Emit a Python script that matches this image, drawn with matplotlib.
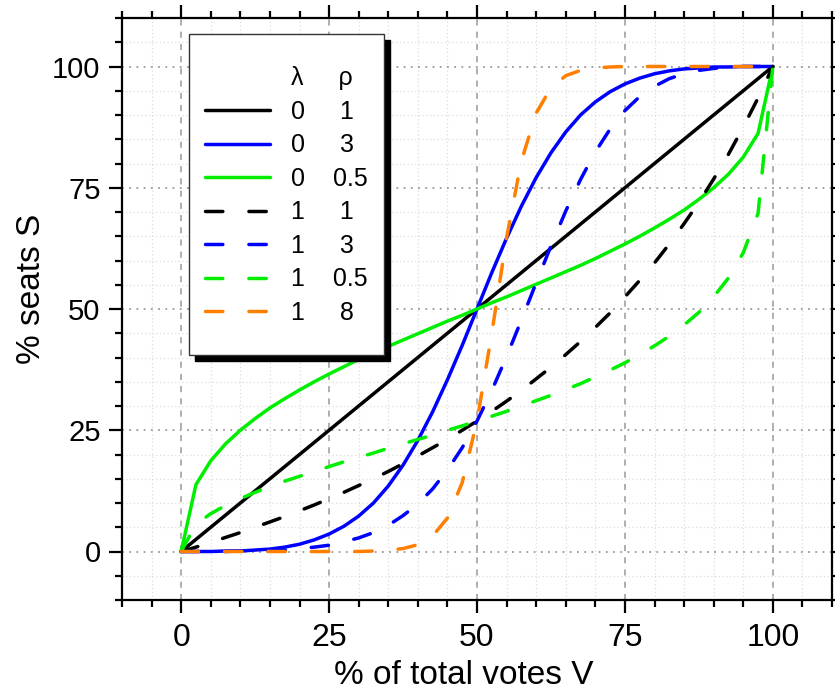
import numpy as np
import matplotlib
matplotlib.use('Agg')
import matplotlib.pyplot as plt
from matplotlib.lines import Line2D
from matplotlib.patches import Rectangle
from matplotlib.ticker import MultipleLocator

plt.rcParams['font.family'] = ['Liberation Sans', 'DejaVu Sans']

# % of total votes (x) and % seats (y)
votes = [0, 2.5, 5, 7.5, 10, 12.5, 15, 17.5, 20, 22.5,
         25, 27.5, 30, 32.5, 35, 37.5, 40, 42.5, 45, 47.5,
         50, 52.5, 55, 57.5, 60, 62.5, 65, 67.5, 70, 72.5,
         75, 77.5, 80, 82.5, 85, 87.5, 90, 92.5, 95, 97.5, 100]

seats_l0_r1 = list(votes)
seats_l0_r3 = [0, 0, 0, 0.1, 0.1, 0.3, 0.5, 0.9, 1.5, 2.4,
               3.6, 5.2, 7.3, 10.0, 13.5, 17.8, 22.9, 28.8, 35.4, 42.5,
               50, 57.5, 64.6, 71.2, 77.1, 82.2, 86.5, 90.0, 92.7, 94.8,
               96.4, 97.6, 98.5, 99.1, 99.5, 99.7, 99.9, 99.9, 100, 100, 100]
seats_l0_r05 = [0, 13.8, 18.7, 22.2, 25.0, 27.4, 29.6, 31.5, 33.3, 35.0,
                36.6, 38.1, 39.6, 41.0, 42.3, 43.6, 44.9, 46.2, 47.5, 48.7,
                50, 51.3, 52.5, 53.8, 55.1, 56.4, 57.7, 59.0, 60.4, 61.9,
                63.4, 65.0, 66.7, 68.5, 70.4, 72.6, 75.0, 77.8, 81.3, 86.2, 100]
seats_l1_r1 = [0, 0.9, 1.9, 2.9, 3.9, 5.0, 6.1, 7.2, 8.4, 9.6,
               10.9, 12.2, 13.6, 15.0, 16.5, 18.1, 19.7, 21.4, 23.1, 25.0,
               26.9, 28.9, 31.0, 33.2, 35.6, 38.0, 40.6, 43.3, 46.2, 49.2,
               52.5, 55.9, 59.5, 63.4, 67.6, 72.0, 76.8, 81.9, 87.5, 93.5, 100]
seats_l1_r3 = [0, 0, 0, 0, 0.1, 0.1, 0.2, 0.3, 0.6, 0.9,
               1.3, 2.0, 2.8, 3.9, 5.4, 7.4, 9.8, 12.9, 16.8, 21.4,
               26.9, 33.2, 40.2, 47.7, 55.4, 63.0, 70.2, 76.7, 82.4, 87.1,
               90.9, 93.8, 95.9, 97.5, 98.5, 99.2, 99.6, 99.9, 100, 100, 100]
seats_l1_r05 = [0, 5.6, 7.8, 9.5, 10.9, 12.2, 13.4, 14.5, 15.5, 16.5,
                17.5, 18.5, 19.4, 20.3, 21.3, 22.2, 23.1, 24.0, 25.0, 25.9,
                26.9, 27.9, 28.9, 30.0, 31.1, 32.2, 33.4, 34.6, 36.0, 37.4,
                38.9, 40.6, 42.4, 44.4, 46.7, 49.3, 52.5, 56.4, 61.6, 69.7, 100]
seats_l1_r8 = [0, 0, 0, 0, 0, 0, 0, 0, 0, 0,
               0, 0, 0, 0.1, 0.3, 0.6, 1.4, 3.2, 6.9, 14.2,
               26.9, 45.0, 64.7, 80.5, 90.4, 95.6, 98.1, 99.2, 99.7, 99.9,
               100, 100, 100, 100, 100, 100, 100, 100, 100, 100, 100]

lambdas = ['0', '0', '0', '1', '1', '1', '1']
rhos = ['1', '3', '0.5', '1', '3', '0.5', '8']
series = [seats_l0_r1, seats_l0_r3, seats_l0_r05, seats_l1_r1,
          seats_l1_r3, seats_l1_r05, seats_l1_r8]
colors = ['black', '#0000ff', '#00ee00', 'black', '#0000ff', '#00ee00', '#ff8000']
dash = (0, (5.0, 7.5))
styles = ['-', '-', '-', dash, dash, dash, dash]

fig = plt.figure(figsize=(8.35, 6.96), dpi=100)
ax = fig.add_axes([122/835, 96/696, 710/835, 582/696])

ax.set_xlim(-10, 110)
ax.set_ylim(-10, 110)
ax.xaxis.set_major_locator(MultipleLocator(25))
ax.yaxis.set_major_locator(MultipleLocator(25))
ax.xaxis.set_minor_locator(MultipleLocator(5))
ax.yaxis.set_minor_locator(MultipleLocator(5))

# grid
ax.xaxis.grid(True, which='major', color='#999999', ls=(0, (4, 4)), lw=1.1)
ax.yaxis.grid(True, which='major', color='#999999', ls=(0, (1, 3)), lw=1.3)
ax.grid(True, which='minor', color='#dddddd', ls=(0, (1, 2)), lw=0.9)
ax.set_axisbelow(True)

handles = [Line2D([], [], ls='none', label='\u03bb     \u03c1')]
for s, c, st, lam, rho in zip(series, colors, styles, lambdas, rhos):
    pad = ' ' * (5 if len(rho) == 1 else 4)
    ln, = ax.plot(votes, s, color=c, ls=st, lw=2.5, dash_capstyle='round',
                  solid_capstyle='round', label=lam + pad + rho, zorder=3)
    handles.append(ln)

for sp in ax.spines.values():
    sp.set_linewidth(1.6)
ax.tick_params(which='both', direction='out', top=True, right=True, width=1.6)
ax.tick_params(which='major', length=9.4)
ax.tick_params(which='minor', length=5)
ax.tick_params(axis='x', labelsize=23, pad=7)
ax.tick_params(axis='y', labelsize=21, pad=6)

ax.set_xlabel('% of total votes V', fontsize=24, labelpad=5, x=0.481)
ax.set_ylabel('% seats S', fontsize=24, labelpad=4, y=0.534)

# legend frame with black shadow
bx, by, bw, bh = 0.0944, 0.421, 0.2746, 0.5515
ax.add_patch(Rectangle((bx + 0.0085, by - 0.0103), bw, bh, transform=ax.transAxes,
                       facecolor='black', edgecolor='black', zorder=4))
ax.add_patch(Rectangle((bx, by), bw, bh, transform=ax.transAxes,
                       facecolor='white', edgecolor='#333333', lw=1.0, zorder=4.5))
leg = ax.legend(handles=handles, loc='upper left', bbox_to_anchor=(0.1169, 0.917),
                frameon=False, fontsize=18, borderpad=0, borderaxespad=0,
                handlelength=2.6, handletextpad=0.85, labelspacing=0.38)
leg.set_zorder(5)

fig.savefig('out.png', dpi=100)
